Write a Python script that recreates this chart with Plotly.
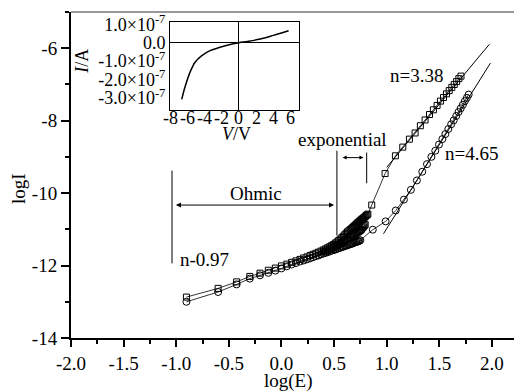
import plotly.graph_objects as go

# ---------------- data ----------------
# main plot: log(E) vs log(I), squares series
sq_x = [-0.903, -0.602, -0.426, -0.301, -0.204, -0.125, -0.058, 0.000, 0.051, 0.097,
        0.138, 0.176, 0.211, 0.243, 0.273, 0.301, 0.327, 0.352, 0.376, 0.398,
        0.419, 0.439, 0.459, 0.477, 0.495, 0.512, 0.528, 0.544, 0.559, 0.574,
        0.588, 0.602, 0.615, 0.628, 0.641, 0.653, 0.665, 0.677, 0.688, 0.699,
        0.710, 0.720, 0.730, 0.740, 0.750, 0.760, 0.769, 0.778, 0.787, 0.796,
        0.804, 0.813, 0.821,
        0.858, 0.985, 1.083, 1.153, 1.216, 1.270, 1.320, 1.365, 1.407, 1.444,
        1.479, 1.511, 1.540, 1.568, 1.594, 1.619, 1.642, 1.665, 1.686, 1.706]
sq_y = [-12.87, -12.63, -12.45, -12.30, -12.21, -12.13, -12.07, -12.01, -11.96, -11.91,
        -11.87, -11.83, -11.79, -11.76, -11.72, -11.69, -11.66, -11.63, -11.60, -11.57,
        -11.54, -11.51, -11.48, -11.45, -11.42, -11.38, -11.35, -11.31, -11.27, -11.23,
        -11.19, -11.15, -11.11, -11.07, -11.04, -11.01, -10.98, -10.95, -10.92, -10.89,
        -10.86, -10.83, -10.81, -10.78, -10.76, -10.73, -10.71, -10.69, -10.67, -10.65,
        -10.62, -10.60, -10.58,
        -10.33, -9.46, -8.97, -8.73, -8.51, -8.34, -8.14, -7.98, -7.83, -7.70,
        -7.58, -7.46, -7.36, -7.26, -7.17, -7.08, -7.00, -6.92, -6.84, -6.77]

# squares, second (return) sweep filling the dark wedge of the transition region
sq2_x = [0.398, 0.419, 0.439, 0.459, 0.477, 0.495, 0.512, 0.528, 0.544, 0.559,
         0.574, 0.588, 0.602, 0.615, 0.628, 0.641, 0.653, 0.665, 0.677, 0.688,
         0.699, 0.710, 0.720, 0.730, 0.740, 0.750, 0.760, 0.769, 0.778, 0.787, 0.796]
sq2_y = [-11.62, -11.60, -11.57, -11.55, -11.52, -11.50, -11.47, -11.45, -11.42, -11.39,
         -11.36, -11.34, -11.31, -11.28, -11.26, -11.23, -11.21, -11.19, -11.17, -11.15,
         -11.13, -11.11, -11.09, -11.07, -11.05, -11.03, -11.00, -10.96, -10.93, -10.90, -10.87]

# circles series
ci_x = [-0.903, -0.602, -0.426, -0.301, -0.204, -0.125, -0.058, 0.000, 0.051, 0.097,
        0.138, 0.176, 0.211, 0.243, 0.273, 0.301, 0.327, 0.352, 0.376, 0.398,
        0.419, 0.439, 0.459, 0.477, 0.495, 0.512, 0.528, 0.544, 0.559, 0.574,
        0.588, 0.602, 0.615, 0.628, 0.641, 0.653, 0.665, 0.677, 0.688, 0.699,
        0.710, 0.720, 0.730, 0.740, 0.750,
        0.868, 0.990, 1.086, 1.164, 1.230, 1.287, 1.338, 1.383, 1.425, 1.462,
        1.497, 1.529, 1.558, 1.586, 1.613, 1.637, 1.661, 1.683, 1.704, 1.724,
        1.743, 1.762, 1.779]
ci_y = [-13.00, -12.73, -12.52, -12.36, -12.27, -12.20, -12.14, -12.08, -12.02, -11.97,
        -11.93, -11.89, -11.86, -11.83, -11.80, -11.77, -11.74, -11.72, -11.69, -11.67,
        -11.65, -11.63, -11.61, -11.59, -11.57, -11.56, -11.54, -11.52, -11.51, -11.49,
        -11.48, -11.46, -11.45, -11.44, -11.42, -11.41, -11.40, -11.39, -11.37, -11.36,
        -11.35, -11.34, -11.33, -11.32, -11.30,
        -11.01, -10.78, -10.48, -10.18, -9.91, -9.65, -9.41, -9.20, -9.00, -8.83,
        -8.66, -8.51, -8.37, -8.23, -8.10, -7.99, -7.87, -7.76, -7.66, -7.56,
        -7.46, -7.37, -7.28]

# fitted lines
sq_fit_x = [1.0, 1.976]
sq_fit_y = [-9.29, -5.89]
ci_fit_x = [0.97, 1.986]
ci_fit_y = [-11.12, -6.41]

# inset I-V curve
inset_v = [-6.64, -6.26, -5.67, -5.09, -4.31, -3.35, -2.19, -1.02, 0.0, 1.0, 2.47, 4.0, 5.76]
inset_i = [-3.08e-7, -2.41e-7, -1.60e-7, -1.06e-7, -0.70e-7, -0.43e-7, -0.25e-7,
           -0.10e-7, 0.0, 0.07e-7, 0.20e-7, 0.40e-7, 0.65e-7]

# tick labels
main_xticks = [-2.0, -1.5, -1.0, -0.5, 0.0, 0.5, 1.0, 1.5, 2.0]
main_xlabels = ["-2.0", "-1.5", "-1.0", "-0.5", "0.0", "0.5", "1.0", "1.5", "2.0"]
main_yticks = [-14, -12, -10, -8, -6]
main_ylabels = ["-14", "-12", "-10", "-8", "-6"]
inset_xticks = [-8, -6, -4, -2, 0, 2, 4, 6]
inset_xlabels = ["-8", "-6", "-4", "-2", "0", "2", "4", "6"]
inset_yticks = [-3e-7, -2e-7, -1e-7, 0.0, 1e-7]
inset_ylabels = ["-3.0×10<sup>-7</sup>", "-2.0×10<sup>-7</sup>", "-1.0×10<sup>-7</sup>",
                 "0.0", "1.0×10<sup>-7</sup>"]

FONT = "Liberation Serif, Times New Roman, serif"

L, T, W, H = 71, 10, 443, 328  # plot area in px


def px(xp, yp):
    return (xp - L) / W, (T + H - yp) / H


fig = go.Figure()

mk_line = dict(color="black", width=0.8)
fig.add_trace(go.Scatter(x=sq_x, y=sq_y, mode="lines+markers", line=mk_line,
                         marker=dict(symbol="square-open", size=6, color="black",
                                     line=dict(width=1, color="black")),
                         showlegend=False))
fig.add_trace(go.Scatter(x=sq2_x, y=sq2_y, mode="lines+markers", line=mk_line,
                         marker=dict(symbol="square-open", size=6, color="black",
                                     line=dict(width=1, color="black")),
                         showlegend=False))
fig.add_trace(go.Scatter(x=ci_x, y=ci_y, mode="lines+markers", line=mk_line,
                         marker=dict(symbol="circle-open", size=7, color="black",
                                     line=dict(width=1, color="black")),
                         showlegend=False))
fig.add_trace(go.Scatter(x=sq_fit_x, y=sq_fit_y, mode="lines",
                         line=dict(color="black", width=1), showlegend=False))
fig.add_trace(go.Scatter(x=ci_fit_x, y=ci_fit_y, mode="lines",
                         line=dict(color="black", width=1), showlegend=False))

fig.add_trace(go.Scatter(x=inset_v, y=inset_i, mode="lines", line=dict(color="black", width=1.5),
                         line_shape="spline", xaxis="x2", yaxis="y2", showlegend=False))

tickfont = dict(family=FONT, size=19, color="black")
ifont = dict(family=FONT, size=18, color="black")
x0d, y0d = px(170, 109)
x1d, y1d = px(299.3, 20)
fig.update_layout(
    width=516, height=391,
    margin=dict(l=L, r=516 - L - W, t=T, b=391 - T - H),
    paper_bgcolor="white", plot_bgcolor="white",
    xaxis=dict(range=[-2.0, 2.21], tickmode="array", tickvals=main_xticks, ticktext=main_xlabels,
               ticks="outside", ticklen=7, tickwidth=1.5, tickcolor="black",
               minor=dict(dtick=0.25, tick0=-2.0, ticks="outside", ticklen=4, tickwidth=1.5,
                          tickcolor="black", showgrid=False),
               showline=True, linewidth=2, linecolor="black", mirror=False,
               showgrid=False, zeroline=False, tickfont=tickfont, tickangle=0),
    yaxis=dict(range=[-14, -5], tickmode="array", tickvals=main_yticks, ticktext=main_ylabels,
               ticks="outside", ticklen=8, tickwidth=1.5, tickcolor="black",
               minor=dict(dtick=1, tick0=-14, ticks="outside", ticklen=4, tickwidth=1.5,
                          tickcolor="black", showgrid=False),
               showline=True, linewidth=2, linecolor="black", mirror=False,
               showgrid=False, zeroline=False, tickfont=tickfont),
    xaxis2=dict(domain=[x0d, x1d], anchor="y2", range=[-8, 7],
                tickmode="array", tickvals=inset_xticks, showticklabels=False,
                ticks="",
                showline=True, linewidth=1, linecolor="black", mirror=True,
                showgrid=False, zeroline=True, zerolinecolor="black", zerolinewidth=1),
    yaxis2=dict(domain=[y0d, y1d], anchor="x2", range=[-3.68e-7, 1.13e-7],
                tickmode="array", tickvals=inset_yticks, ticktext=inset_ylabels,
                ticks="",
                showline=True, linewidth=1, linecolor="black", mirror=True,
                showgrid=False, zeroline=True, zerolinecolor="black", zerolinewidth=1,
                tickfont=ifont),
)

shapes = [
    dict(type="line", xref="paper", yref="paper", x0=0, x1=1, y0=1, y1=1,
         line=dict(color="#333333", width=1)),
    dict(type="line", xref="x", yref="y", x0=-1.04, x1=-1.04, y0=-9.38, y1=-11.94,
         line=dict(color="black", width=1)),
    dict(type="line", xref="x", yref="y", x0=0.527, x1=0.527, y0=-8.83, y1=-11.17,
         line=dict(color="black", width=1)),
    dict(type="line", xref="x", yref="y", x0=0.81, x1=0.81, y0=-8.88, y1=-9.73,
         line=dict(color="black", width=1)),
]
fig.update_layout(shapes=shapes)

afont = dict(family=FONT, size=19, color="black")
C = dict(xanchor="center", yanchor="middle", showarrow=False)
annotations = [
    dict(x=0.50, y=-10.33, ax=-1.017, ay=-10.33, xref="x", yref="y", axref="x", ayref="y",
         text="", showarrow=True, arrowhead=2, arrowside="end+start", arrowsize=1,
         arrowwidth=1, arrowcolor="black"),
    dict(x=0.779, y=-9.02, ax=0.567, ay=-9.02, xref="x", yref="y", axref="x", ayref="y",
         text="", showarrow=True, arrowhead=2, arrowside="end+start", arrowsize=0.8,
         arrowwidth=1, arrowcolor="black"),
    dict(x=-0.24, y=-10.0, xref="x", yref="y", text="Ohmic", font=afont, **C),
    dict(x=0.58, y=-8.52, xref="x", yref="y", text="exponential", font=afont, **C),
    dict(x=-0.731, y=-11.84, xref="x", yref="y", text="n-0.97", font=afont, **C),
    dict(x=1.283, y=-6.74, xref="x", yref="y", text="n=3.38", font=afont, **C),
    dict(x=1.81, y=-8.90, xref="x", yref="y", text="n=4.65", font=afont, **C),
]
# inset x tick labels placed on the inset's x scale, tight under the box
_, ylab = px(0, 117)
for tv, tt in zip(inset_xticks, inset_xlabels):
    annotations.append(dict(x=tv, y=ylab, xref="x2", yref="paper", text=tt, font=ifont, **C))

ax_t = [
    (288, 381, "log(E)", 0, afont),
    (19, 188, "logI", -90, afont),
    (236, 133, "<i>V</i>/V", 0, ifont),
    (82, 60, "<i>I</i>/A", -90, ifont),
]
for xp, yp, txt, ang, f in ax_t:
    xx, yy = px(xp, yp)
    annotations.append(dict(x=xx, y=yy, xref="paper", yref="paper", text=txt,
                            textangle=ang, font=f, **C))
fig.update_layout(annotations=annotations)

fig.write_html("out.html")
